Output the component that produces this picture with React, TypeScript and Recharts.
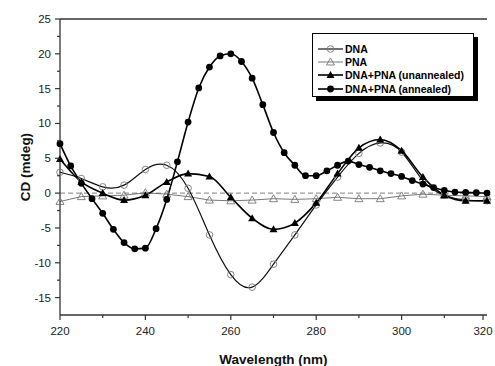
import { LineChart, Line, XAxis, YAxis, ReferenceLine, Legend } from "recharts";

// wavelengths (nm) sampled by the markers
const wl5 = [220, 225, 230, 235, 240, 245, 250, 255, 260, 265, 270, 275, 280, 285, 290, 295, 300, 305, 310, 315, 320];
const wl25 = [
    220, 222.5, 225, 227.5, 230, 232.5, 235, 237.5, 240, 242.5, 245, 247.5, 250, 252.5, 255, 257.5, 260, 262.5, 265, 267.5, 270,
    272.5, 275, 277.5, 280, 282.5, 285, 287.5, 290, 292.5, 295, 297.5, 300, 302.5, 305, 307.5, 310, 312.5, 315, 317.5, 320,
];

const dnaCd = [3.0, 2.1, 0.9, 1.15, 3.4, 4.0, 0.7, -6.0, -11.7, -13.5, -10.2, -6.0, -1.7, 2.3, 5.7, 7.2, 5.9, 1.8, -0.3, -1.0, -1.1];
const pnaCd = [-1.2, -0.5, -0.4, -0.3, 0.05, -0.15, -0.5, -1.0, -1.1, -1.0, -0.8, -0.9, -0.8, -0.6, -0.8, -0.8, -0.4, -0.15, -0.3, -0.4, -0.5];
const unannealedCd = [4.9, 1.6, 0.0, -1.0, -0.3, 1.6, 2.8, 2.4, -0.6, -3.6, -5.2, -4.3, -1.4, 2.8, 6.5, 7.7, 6.1, 2.3, -0.3, -1.1, -1.1];
const annealedCd = [
    7.1, 3.9, 1.4, -0.8, -2.9, -5.2, -7.1, -8.0, -7.9, -5.1, -0.9, 4.5, 10.2, 15.1, 18.1, 19.7, 20.0, 18.9, 16.5, 12.7, 8.7,
    5.8, 4.0, 2.5, 2.5, 3.2, 4.0, 4.6, 4.1, 3.7, 3.2, 2.8, 2.4, 1.8, 1.3, 0.8, 0.4, 0.15, 0.1, 0.05, 0.0,
];

const xTicks = [220, 230, 240, 250, 260, 270, 280, 290, 300, 310, 320];
const yTicks = [-15, -12.5, -10, -7.5, -5, -2.5, 0, 2.5, 5, 7.5, 10, 12.5, 15, 17.5, 20, 22.5, 25];
const yMajor = [-15, -10, -5, 0, 5, 10, 15, 20, 25];

const seriesNames = ["DNA", "PNA", "DNA+PNA (unannealed)", "DNA+PNA (annealed)"];

const toRows = (xs: number[], ys: number[]) => xs.map((wl, i) => ({ wl, cd: ys[i] }));

const dnaData = toRows(wl5, dnaCd);
const pnaData = toRows(wl5, pnaCd);
const unannealedData = toRows(wl5, unannealedCd);
const annealedData = toRows(wl25, annealedCd);

const FONT = "'Liberation Sans', Arial, sans-serif";
const AXIS = "#333";

const triPath = (cx: number, cy: number, s: number) => `M${cx},${cy - s} L${cx + s},${cy + s * 0.75} L${cx - s},${cy + s * 0.75} Z`;

const OpenCircle = (p: any) => <circle key={`oc${p.index}`} cx={p.cx} cy={p.cy} r={3.3} fill="none" stroke="#777" strokeWidth={0.9} />;
const OpenTri = (p: any) => <path key={`ot${p.index}`} d={triPath(p.cx, p.cy, 4)} fill="none" stroke="#777" strokeWidth={0.9} />;
const FilledTri = (p: any) => <path key={`ft${p.index}`} d={triPath(p.cx, p.cy, 4)} fill="#000" />;
const FilledCircle = (p: any) => <circle key={`fc${p.index}`} cx={p.cx} cy={p.cy} r={3.4} fill="#000" />;

const XTick = (p: any) => {
    const v = p.payload.value;
    const major = v % 20 === 0;
    return (
        <g>
            <line x1={p.x} y1={p.y} x2={p.x} y2={p.y + (major ? 5 : 3)} stroke={AXIS} strokeWidth={1.2} />
            {major && (
                <text x={p.x} y={p.y + 20} textAnchor="middle" fontFamily={FONT} fontSize={11.5} fill="#222">
                    {v}
                </text>
            )}
        </g>
    );
};

const YTick = (p: any) => {
    const v = p.payload.value;
    const major = v % 5 === 0;
    return (
        <g>
            <line x1={p.x - (major ? 5 : 3)} y1={p.y} x2={p.x} y2={p.y} stroke={AXIS} strokeWidth={1.2} />
            {major && (
                <text x={p.x - 9} y={p.y + 4} textAnchor="end" fontFamily={FONT} fontSize={11.5} fill="#222">
                    {v}
                </text>
            )}
        </g>
    );
};

const legendMarks = [
    { stroke: "#111", width: 1.2, mark: (x: number, y: number) => <circle cx={x} cy={y} r={3.3} fill="none" stroke="#777" strokeWidth={0.9} /> },
    { stroke: "#555", width: 0.8, mark: (x: number, y: number) => <path d={triPath(x, y, 4)} fill="none" stroke="#777" strokeWidth={0.9} /> },
    { stroke: "#000", width: 1.6, mark: (x: number, y: number) => <path d={triPath(x, y, 4)} fill="#000" /> },
    { stroke: "#000", width: 1.6, mark: (x: number, y: number) => <circle cx={x} cy={y} r={3.4} fill="#000" /> },
];

const LegendBox = () => (
    <div
        style={{
            width: 162,
            height: 64,
            border: "1px solid #000",
            background: "#fff",
            boxShadow: "4px 4px 0 #000",
            paddingTop: 8,
            boxSizing: "border-box",
        }}
    >
        {seriesNames.map((name, i) => (
            <div key={name} style={{ display: "flex", alignItems: "center", height: 13.3 }}>
                <svg width={27} height={12} style={{ marginLeft: 5, flex: "none" }}>
                    <line x1={0} y1={6} x2={25} y2={6} stroke={legendMarks[i].stroke} strokeWidth={legendMarks[i].width} />
                    {legendMarks[i].mark(12.5, 6)}
                </svg>
                <span style={{ fontFamily: FONT, fontWeight: 700, fontSize: 10.5, color: "#000", whiteSpace: "nowrap" }}>{name}</span>
            </div>
        ))}
    </div>
);

export default function App() {
    return (
        <div style={{ position: "absolute", left: 0, top: 0, width: 495, height: 366, background: "#fff" }}>
            <LineChart width={495} height={366} margin={{ top: 19, right: 8, bottom: 0, left: 0 }}>
                <XAxis
                    dataKey="wl"
                    type="number"
                    domain={[220, 320]}
                    ticks={xTicks}
                    allowDuplicatedCategory={false}
                    height={51}
                    stroke={AXIS}
                    strokeWidth={1.3}
                    tickLine={false}
                    tickSize={0}
                    tickMargin={0}
                    tick={<XTick />}
                    label={{ value: "Wavelength (nm)", position: "insideBottom", offset: 2, fontFamily: FONT, fontWeight: 700, fontSize: 13.5, fill: "#111" }}
                />
                <YAxis
                    yAxisId="l"
                    type="number"
                    domain={[-17.5, 25]}
                    ticks={yTicks}
                    interval={0}
                    width={60}
                    stroke={AXIS}
                    strokeWidth={1.3}
                    tickLine={false}
                    tickSize={0}
                    tickMargin={0}
                    tick={<YTick />}
                    label={{ value: "CD (mdeg)", angle: -90, position: "insideLeft", offset: 25, fontFamily: FONT, fontWeight: 700, fontSize: 13.5, fill: "#111", style: { textAnchor: "middle" } }}
                />
                <YAxis
                    yAxisId="r"
                    orientation="right"
                    type="number"
                    domain={[-17.5, 25]}
                    ticks={yMajor}
                    interval={0}
                    width={0}
                    mirror
                    tick={false}
                    tickSize={5}
                    stroke={AXIS}
                    strokeWidth={1.3}
                />
                <ReferenceLine yAxisId="l" y={25} stroke={AXIS} strokeWidth={1.3} />
                <ReferenceLine yAxisId="l" y={0} stroke="#999" strokeWidth={1.2} strokeDasharray="5 3" />
                <Legend layout="vertical" align="center" verticalAlign="middle" content={<LegendBox />} wrapperStyle={{ left: 312, top: 33, width: 166 }} />
                <Line yAxisId="l" data={pnaData} dataKey="cd" name={seriesNames[1]} type="linear" stroke="#555" strokeWidth={0.8} dot={OpenTri} isAnimationActive={false} />
                <Line yAxisId="l" data={dnaData} dataKey="cd" name={seriesNames[0]} type="natural" stroke="#111" strokeWidth={1.2} dot={OpenCircle} isAnimationActive={false} />
                <Line yAxisId="l" data={unannealedData} dataKey="cd" name={seriesNames[2]} type="monotone" stroke="#000" strokeWidth={1.6} dot={FilledTri} isAnimationActive={false} />
                <Line yAxisId="l" data={annealedData} dataKey="cd" name={seriesNames[3]} type="monotone" stroke="#000" strokeWidth={1.6} dot={FilledCircle} isAnimationActive={false} />
            </LineChart>
        </div>
    );
}
